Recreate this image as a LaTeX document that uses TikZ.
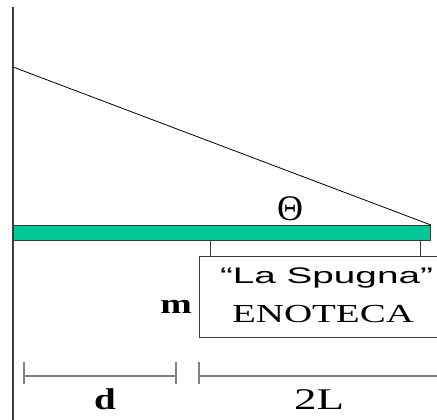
\documentclass[tikz,border=0pt]{standalone}
\usepackage{fontspec}
\setmainfont{Liberation Serif}
\newfontfamily\arialf{Liberation Sans}
\definecolor{rodgreen}{RGB}{0,200,150}
\definecolor{edgegray}{RGB}{60,60,60}
\definecolor{dimgray}{RGB}{128,128,128}
\begin{document}
\begin{tikzpicture}[x=1pt,y=-1pt,
  thinline/.style={draw=edgegray,line width=0.9pt},
  dimline/.style={draw=dimgray,line width=1.3pt},
  lbl/.style={anchor=base,inner sep=0pt,text=black}]
\useasboundingbox (0,0) rectangle (437,420);
% wall
\coordinate (wtop) at (13,7);
\coordinate (wbot) at (13,420);
\draw[draw=edgegray,line width=1.8pt] (wtop) -- (wbot);
% rod
\node[draw=edgegray,line width=0.9pt,fill=rodgreen,minimum width=417pt,minimum height=15pt,inner sep=0pt,anchor=north west] (rod) at (13,225) {};
% diagonal string
\coordinate (sA) at (13,67);
\draw[line width=0.8pt,black] (sA) -- (rod.north east);
% box
\node[thinline,minimum width=246pt,minimum height=81pt,inner sep=0pt,anchor=north west] (box) at (199,256) {};
% hangers
\coordinate (h1) at (210,240);
\coordinate (h2) at (420,240);
\draw[thinline] (h1) -- (h1 |- box.north);
\draw[thinline] (h2) -- (h2 |- box.north);
% texts
\node[lbl] (spugna) at (326.5,283) {\scalebox{1.72}[1]{\fontsize{22.5}{22.5}\selectfont\arialf “La Spugna”}};
\node[lbl] (enoteca) at (323,322) {\scalebox{1.5}[1]{\fontsize{26}{26}\selectfont ENOTECA}};
\node[lbl] (m) at (176,313) {\scalebox{1.35}[1]{\fontsize{28}{28}\selectfont\bfseries m}};
\node[lbl] (theta) at (290,220) {\fontsize{36}{36}\selectfont Θ};
% dimensions
\coordinate (d1) at (24,376);
\coordinate (d2) at (176,376);
\coordinate (l1) at (199,376);
\coordinate (l2) at (445,376);
\draw[dimline] (d1) -- (d2);
\draw[dimline] ([yshift=-8pt]d1) -- ([yshift=14pt]d1);
\draw[dimline] ([yshift=-8pt]d2) -- ([yshift=14pt]d2);
\draw[dimline] (l1) -- (l2);
\draw[dimline] ([yshift=-8pt]l1) -- ([yshift=14pt]l1);
\node[lbl] (dl) at (105,409) {\scalebox{1.3}[1]{\fontsize{30}{30}\selectfont\bfseries d}};
\node[lbl] (ll) at (319,409) {\scalebox{1.5}[1]{\fontsize{30}{30}\selectfont 2L}};
\end{tikzpicture}
\end{document}
